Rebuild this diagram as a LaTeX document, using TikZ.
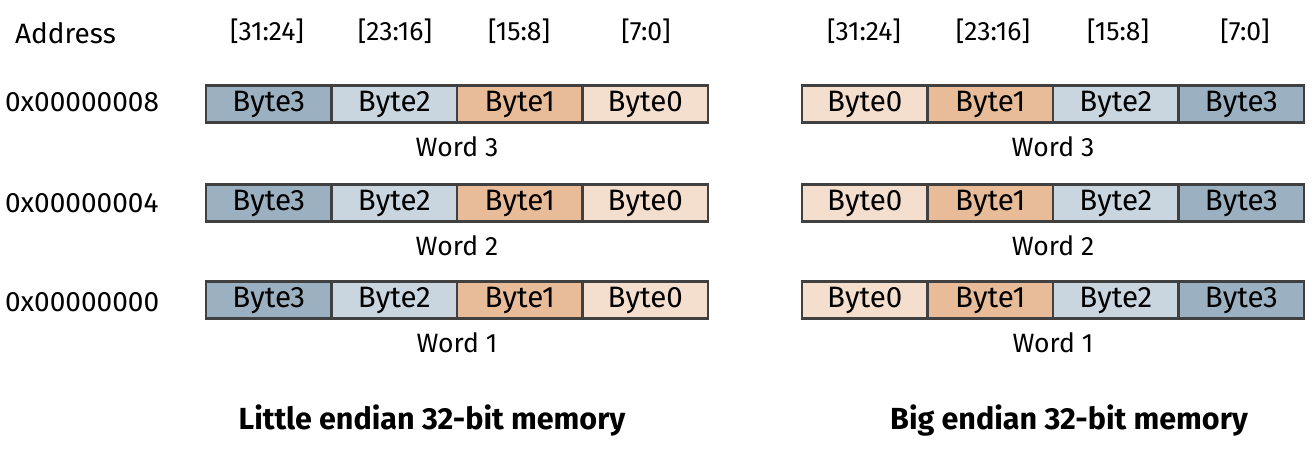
\documentclass[tikz,border=0pt]{standalone}
\usepackage{fontspec}
\setmainfont{Fira Sans}
\definecolor{bdark}{HTML}{9BB1C1}
\definecolor{blight}{HTML}{C9D6E0}
\definecolor{odark}{HTML}{E8BC98}
\definecolor{olight}{HTML}{F4DECE}
\definecolor{edge}{HTML}{404040}
\begin{document}
\begin{tikzpicture}[x=1pt,y=-1pt,
  cell/.style={draw=edge,line width=2.4pt,minimum width=125.5pt,minimum height=37pt,inner sep=0pt,font=\fontsize{29.5}{32}\selectfont},
  lbl/.style={font=\fontsize{28}{32}\selectfont,inner sep=0pt},
  bits/.style={font=\fontsize{26.5}{30}\selectfont,inner sep=0pt},
  word/.style={font=\fontsize{26.5}{30}\selectfont,inner sep=0pt},
  title/.style={font=\fontsize{30.5}{34}\selectfont\bfseries,inner sep=0pt}]
\useasboundingbox (0,0) rectangle (1316,463);
\node[lbl,anchor=west] (addr) at (15,33) {Address};
% bit labels
\foreach \x/\t [count=\i] in {267/{[31:24]},395/{[23:16]},519/{[15:8]},646/{[7:0]}}
  \node[bits] (lb\i) at (\x,31) {\t};
\foreach \x/\t [count=\i] in {864/{[31:24]},993/{[23:16]},1118/{[15:8]},1245/{[7:0]}}
  \node[bits] (rb\i) at (\x,31) {\t};
% rows
\foreach \y/\ay/\a/\w [count=\r] in {104/102/0x00000008/3,203/203/0x00000004/2,300/302/0x00000000/1}{
  \node[lbl,anchor=west] (a\r) at (5,\ay) {\a};
  \node[cell,fill=bdark]  (L\r c1) at (268.75,\y) {Byte3};
  \node[cell,fill=blight] (L\r c2) at (394.25,\y) {Byte2};
  \node[cell,fill=odark]  (L\r c3) at (519.75,\y) {Byte1};
  \node[cell,fill=olight] (L\r c4) at (645.25,\y) {Byte0};
  \node[word] (Lw\r) at (457,\y+43) {Word \w};
  \node[cell,fill=olight] (R\r c1) at (864.75,\y) {Byte0};
  \node[cell,fill=odark]  (R\r c2) at (990.25,\y) {Byte1};
  \node[cell,fill=blight] (R\r c3) at (1115.75,\y) {Byte2};
  \node[cell,fill=bdark]  (R\r c4) at (1241.25,\y) {Byte3};
  \node[word] (Rw\r) at (1053,\y+43) {Word \w};
}
\node[title] (tl) at (432,421) {Little endian 32-bit memory};
\node[title] (tr) at (1069,421) {Big endian 32-bit memory};
\end{tikzpicture}
\end{document}
